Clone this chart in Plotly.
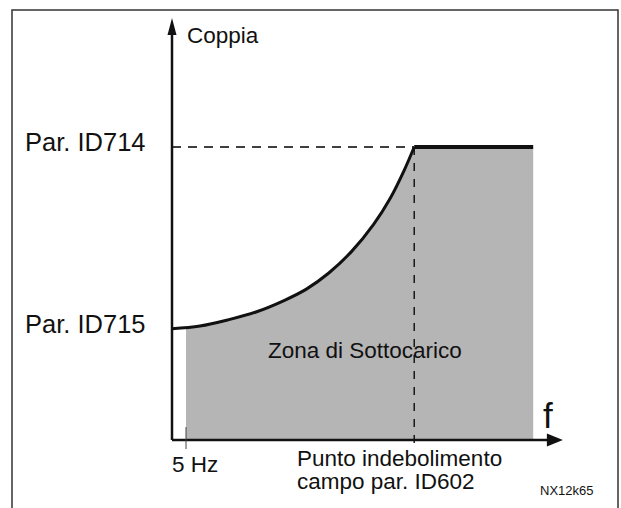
import plotly.graph_objects as go

# ---- data (schematic units: frequency in Hz-like units, torque in % of Par. ID714) ----
freq_curve = [0, 10, 20, 30, 40, 48, 56, 64, 72, 78, 83, 86.5]
torque_curve = [38, 38.9, 41.0, 43.7, 47.6, 51.5, 57.0, 64.2, 73.6, 82.6, 92.2, 100]
F_MIN = 5            # 5 Hz
T_AT_FMIN = 38.3     # torque at 5 Hz
F_FW = 86.5          # field weakening point (par. ID602)
F_MAX = 129          # end of underload zone
T_ID714 = 100        # Par. ID714
T_ID715 = 38         # Par. ID715
F_AXIS_END = 139.6
T_AXIS_END = 144.0

y_labels = ["Par. ID714", "Par. ID715"]
y_label_vals = [T_ID714, T_ID715]

FONT = "Liberation Sans, Arial, sans-serif"
INK = "#111111"
GRAY = "#b5b5b5"

fig = go.Figure()

# underload zone fill
fill_x = [F_MIN] + freq_curve[1:] + [F_MAX]
fill_y = [T_AT_FMIN] + torque_curve[1:] + [T_ID714]
fig.add_trace(go.Scatter(x=fill_x, y=fill_y, mode="lines", fill="tozeroy",
                         fillcolor=GRAY, line=dict(width=0, color=GRAY),
                         hoverinfo="skip", showlegend=False))

# dashed guides
fig.add_trace(go.Scatter(x=[0, F_FW], y=[T_ID714, T_ID714], mode="lines",
                         line=dict(color="#000000", width=1.3, dash="9px,7px"),
                         hoverinfo="skip", showlegend=False))
fig.add_trace(go.Scatter(x=[F_FW, F_FW], y=[T_ID714, -2.7], mode="lines",
                         line=dict(color="#000000", width=1.3, dash="8px,8px"),
                         hoverinfo="skip", showlegend=False))

# curve
fig.add_trace(go.Scatter(x=freq_curve, y=torque_curve, mode="lines",
                         line=dict(color=INK, width=3, shape="spline", smoothing=1),
                         hoverinfo="skip", showlegend=False))
# flat part
fig.add_trace(go.Scatter(x=[F_FW, F_MAX], y=[T_ID714, T_ID714], mode="lines",
                         line=dict(color=INK, width=4),
                         hoverinfo="skip", showlegend=False))

shapes = []
# axes
shapes.append(dict(type="line", xref="x", yref="y", x0=0, y0=0, x1=0, y1=T_AXIS_END - 4,
                   line=dict(color=INK, width=2.5)))
shapes.append(dict(type="line", xref="x", yref="y", x0=0, y0=0, x1=F_AXIS_END - 4, y1=0,
                   line=dict(color=INK, width=2.5)))
# arrow heads (pixel-sized, anchored at axis ends)
shapes.append(dict(type="path", xref="x", yref="y", xsizemode="pixel", ysizemode="pixel",
                   xanchor=0, yanchor=T_AXIS_END, path="M0,0 L-4.5,-17 L4.5,-17 Z",
                   fillcolor=INK, line=dict(width=0)))
shapes.append(dict(type="path", xref="x", yref="y", xsizemode="pixel", ysizemode="pixel",
                   xanchor=F_AXIS_END, yanchor=0, path="M0,0 L-16,6.5 L-16,-6.5 Z",
                   fillcolor=INK, line=dict(width=0)))
# 5 Hz tick
shapes.append(dict(type="line", xref="x", yref="y", x0=F_MIN, x1=F_MIN, y0=4.4, y1=-3.1,
                   line=dict(color="#444444", width=1)))
# frame
shapes.append(dict(type="rect", xref="paper", yref="paper", x0=12/621, x1=618/621,
                   y0=-0.1, y1=1 - 10/508, line=dict(color="#333333", width=1.5)))

ann = []
def text(x, y, s, size, xanchor="center", yanchor="middle", xshift=0, yshift=0):
    ann.append(dict(x=x, y=y, xref="x", yref="y", text=s, showarrow=False,
                    xanchor=xanchor, yanchor=yanchor, xshift=xshift, yshift=yshift,
                    borderpad=0, borderwidth=0,
                    font=dict(family=FONT, size=size, color=INK)))

for lab, v in zip(y_labels, y_label_vals):
    text(0, v, lab, 25.5, xanchor="right", xshift=-26, yshift=5)
text(0, T_AXIS_END, "Coppia", 22.5, xanchor="left", yanchor="middle", xshift=15, yshift=-17)
text(68.8, 30.4, "Zona di Sottocarico", 22.5)
text(134.3, 0, "f", 35, xanchor="center", yanchor="bottom", yshift=5)
text(0, -8.5, "5 Hz", 22.5, xanchor="left", yanchor="middle", xshift=0)
text(44.7, -6.3, "Punto indebolimento", 22.5, xanchor="left", yanchor="middle", xshift=0)
text(44.7, -14.2, "campo par. ID602", 22.5, xanchor="left", yanchor="middle", xshift=0)
text(141.0, -17.1, "NX12k65", 13)

fig.update_layout(
    width=621, height=508, margin=dict(l=0, r=0, t=0, b=0),
    paper_bgcolor="white", plot_bgcolor="white",
    xaxis=dict(range=[-61.43, 160.36], visible=False, fixedrange=True),
    yaxis=dict(range=[-23.21, 150.17], visible=False, fixedrange=True),
    shapes=shapes, annotations=ann, showlegend=False,
)

fig.write_html("out.html", config={"displayModeBar": False},
               post_script="document.body.style.margin='0';document.body.style.overflow='hidden';")
